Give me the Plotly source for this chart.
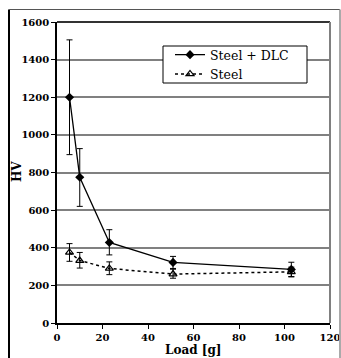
import plotly.graph_objects as go

load = [5.5, 10, 23, 51, 103]
dlc_hv = [1200, 775, 428, 322, 285]
dlc_err_plus = [305, 152, 68, 32, 38]
dlc_err_minus = [305, 155, 66, 36, 40]
steel_hv = [375, 332, 290, 260, 272]
steel_err_plus = [47, 43, 35, 30, 25]
steel_err_minus = [47, 40, 33, 22, 25]
x_ticks = [0, 20, 40, 60, 80, 100, 120]
y_ticks = [0, 200, 400, 600, 800, 1000, 1200, 1400, 1600]

FONT = "DejaVu Serif"

# figure fills the whole 341x358 window (page margin removed below)
W, H = 341, 358
L, R, T, B = 57, 11, 22, 35
PW, PH = W - L - R, H - T - B

def px(x):
    return (x - L) / PW

def py(y):
    return (H - B - y) / PH

fig = go.Figure()
fig.add_trace(go.Scatter(
    x=load, y=dlc_hv, mode="lines+markers", name="Steel + DLC",
    line=dict(color="black", width=1.3),
    marker=dict(symbol="diamond", size=7, color="black"),
    error_y=dict(type="data", array=dlc_err_plus, arrayminus=dlc_err_minus,
                 color="black", thickness=1, width=3),
))
fig.add_trace(go.Scatter(
    x=load, y=steel_hv, mode="lines+markers", name="Steel",
    line=dict(color="black", width=1.5, dash="dot"),
    marker=dict(symbol="triangle-up-open", size=7, color="black",
                line=dict(width=1.2)),
    error_y=dict(type="data", array=steel_err_plus, arrayminus=steel_err_minus,
                 color="black", thickness=1, width=3),
))

fig.update_layout(
    width=W, height=H,
    margin=dict(l=L, r=R, t=T, b=B, autoexpand=False),
    paper_bgcolor="white", plot_bgcolor="white",
    font=dict(family=FONT, color="black", size=10),
    showlegend=True,
    legend=dict(x=px(170), y=py(40), xanchor="left", yanchor="top",
                bgcolor="rgba(0,0,0,0)", borderwidth=0,
                font=dict(family=FONT, size=12.5), itemwidth=30),
)
fig.update_xaxes(
    range=[0, 120], tickvals=x_ticks,
    showgrid=False, zeroline=False, automargin=False,
    showline=True, linecolor="black", linewidth=1.5,
    ticks="outside", ticklen=4, tickcolor="black",
    tickfont=dict(family=FONT, size=10, weight="bold"),
)
fig.update_yaxes(
    range=[0, 1600], tickvals=y_ticks,
    showgrid=True, gridcolor="#808080", gridwidth=1.6, zeroline=False,
    automargin=False,
    showline=True, linecolor="black", linewidth=1.5,
    ticks="outside", ticklen=4, tickcolor="black",
    tickfont=dict(family=FONT, size=10, weight="bold"),
)
# axis titles
fig.add_annotation(text="<b>Load [g]</b>", xref="paper", yref="paper",
                   x=px((57 + 330) / 2), y=py(350), showarrow=False,
                   font=dict(family=FONT, size=12), xanchor="center", yanchor="middle")
fig.add_annotation(text="<b>HV</b>", xref="paper", yref="paper",
                   x=px(17), y=py(172), showarrow=False, textangle=-90,
                   font=dict(family=FONT, size=12), xanchor="center", yanchor="middle")
# legend box
fig.add_shape(type="rect", xref="paper", yref="paper", layer="above",
              x0=px(163), x1=px(307), y0=py(83), y1=py(46),
              fillcolor="white", line=dict(color="black", width=1))
# plot-area frame: top dark, right gray
fig.add_shape(type="line", xref="paper", yref="paper", x0=0, x1=1, y0=1, y1=1,
              line=dict(color="#333333", width=2))
fig.add_shape(type="line", xref="paper", yref="paper", x0=1, x1=1, y0=0, y1=1,
              line=dict(color="#808080", width=2))
# outer chart border
fig.add_shape(type="line", xref="paper", yref="paper",
              x0=px(9), x1=px(9), y0=py(H + 5), y1=py(9.5),
              line=dict(color="black", width=2))
fig.add_shape(type="line", xref="paper", yref="paper",
              x0=px(9), x1=px(340), y0=py(9.5), y1=py(9.5),
              line=dict(color="#555555", width=1))
fig.add_shape(type="line", xref="paper", yref="paper",
              x0=px(340), x1=px(340), y0=py(H + 5), y1=py(9.5),
              line=dict(color="#aaaaaa", width=2))

fig.write_html("out.html",
               config={"displayModeBar": False},
               post_script="document.body.style.margin='0';"
                           "document.body.style.overflow='hidden';")
